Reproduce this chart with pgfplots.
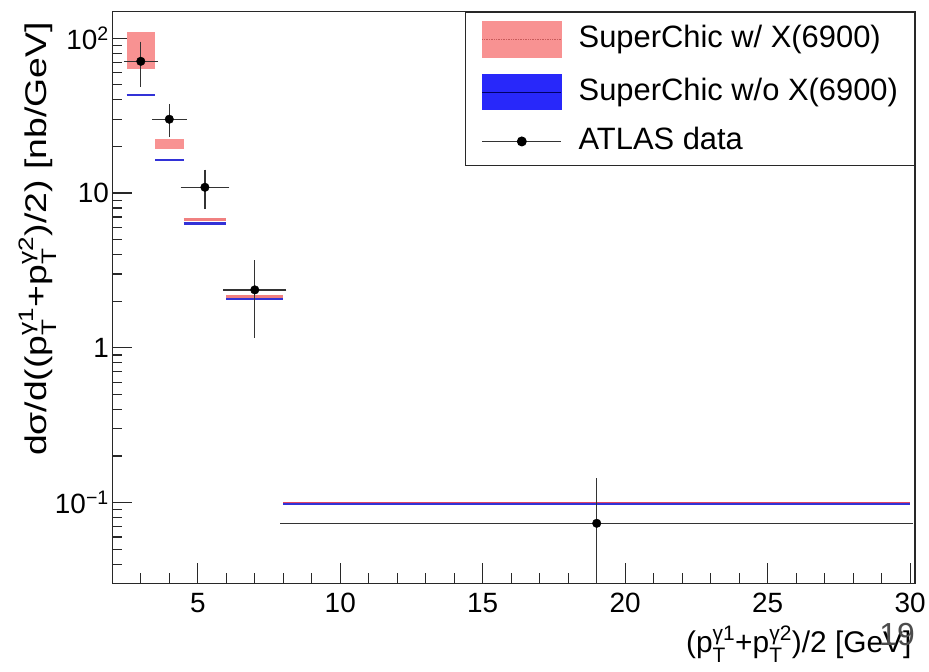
\documentclass[border=0pt]{standalone}
\usepackage{fontspec}
\setmainfont{Liberation Sans}
\usepackage{amsmath}
\usepackage{pgfplots}
\pgfplotsset{compat=1.18}
\definecolor{redband}{RGB}{248,146,146}
\definecolor{redline}{RGB}{240,128,128}
\definecolor{redthin}{RGB}{225,70,100}
\definecolor{blueband}{RGB}{40,40,250}
\definecolor{blueline}{RGB}{50,50,215}
\definecolor{axisgray}{RGB}{40,40,40}
\begin{document}
\begin{tikzpicture}
\useasboundingbox (0,0) rectangle (929bp,672bp);
\begin{axis}[
  at={(112.3bp,88.7bp)}, anchor=south west,
  scale only axis, width=802.7bp, height=571.6bp,
  xmin=2, xmax=30.17, ymode=log, ymin=0.03015, ymax=148.5,
  tick align=inside, xtick pos=left, ytick pos=left,
  axis line style={line width=1.5bp, color=axisgray},
  major tick style={line width=1.2bp, color=axisgray},
  minor tick style={line width=1.2bp, color=axisgray},
  major tick length=20bp, minor tick length=10bp,
  xtick={5,10,15,20,25,30},
  minor xtick={3,4,5,6,7,8,9,10,11,12,13,14,15,16,17,18,19,20,21,22,23,24,25,26,27,28,29,30},
  ytick={0.1,1,10,100},
  yticklabels={10\textsuperscript{−1},1,10,10\textsuperscript{2}},
  minor ytick={0.04,0.05,0.06,0.07,0.08,0.09,0.1,0.2,0.3,0.4,0.5,0.6,0.7,0.8,0.9,1,2,3,4,5,6,7,8,9,10,20,30,40,50,60,70,80,90,100},
  /pgf/number format/assume math mode=true,
  tick label style={font=\fontsize{28}{32}\selectfont},
  xticklabel style={yshift=-6bp},
  xlabel={(p$^{\text{γ1}}_{\text{T}}$+p$^{\text{γ2}}_{\text{T}}$)/2 [GeV]},
  xlabel style={at={(axis description cs:1,-0.1219)}, anchor=base east, font=\fontsize{30}{34}\selectfont},
  ylabel={dσ/d((p$^{\text{γ1}}_{\text{T}}$+p$^{\text{γ2}}_{\text{T}}$)/2) [nb/GeV]},
  ylabel style={at={(axis description cs:-0.082,0.989)}, anchor=base east, font=\fontsize{30}{34}\selectfont, xscale=1.25},
  legend style={at={(rel axis cs:1,1)}, anchor=north east, draw=axisgray, line width=1.5bp,
    font=\fontsize{31}{36}\selectfont, inner xsep=16.3bp, inner ysep=9bp,
    row sep=16bp, column sep=16.6bp,
    nodes={inner sep=0bp, text height=23bp, text depth=7bp}},
  legend cell align=left,
]
\addlegendimage{legend image code/.code={
  \fill[redband] (0bp,-17.5bp) rectangle (79bp,17.5bp);
  \draw[densely dotted, color={rgb,255:red,200;green,90;blue,90}, line width=0.7bp] (0bp,0bp) -- (79bp,0bp);}}
\addlegendentry{SuperChic w/ X(6900)}
\addlegendimage{legend image code/.code={
  \fill[blueband] (0bp,-17.5bp) rectangle (79bp,17.5bp);
  \draw[blue!40!black, line width=0.6bp] (0bp,0bp) -- (79bp,0bp);}}
\addlegendentry{SuperChic w/o X(6900)}
\addlegendimage{legend image code/.code={
  \draw[black!80, line width=1.3bp] (0bp,0bp) -- (79bp,0bp);
  \fill[black] (39.5bp,0bp) circle (4.2bp);}}
\addlegendentry{ATLAS data}

% SuperChic w/ X(6900): bands
\addplot[draw=none, fill=redband, forget plot] coordinates {(2.5,63.3) (3.5,63.3) (3.5,110) (2.5,110)} -- cycle;
\addplot[draw=none, fill=redband, forget plot] coordinates {(3.5,19.3) (4.5,19.3) (4.5,22.3) (3.5,22.3)} -- cycle;
\addplot[redline, line width=3bp, forget plot] coordinates {(4.5,6.76) (6,6.76)};
\addplot[redline, line width=3bp, forget plot] coordinates {(6,2.16) (8,2.16)};
% SuperChic w/o X(6900)
\addplot[blueline, line width=2.5bp, forget plot] coordinates {(2.5,43.0) (3.5,43.0)};
\addplot[blueline, line width=2.5bp, forget plot] coordinates {(3.5,16.4) (4.5,16.4)};
\addplot[blueline, line width=2.5bp, forget plot] coordinates {(4.5,6.37) (6,6.37)};
\addplot[blueline, line width=2.5bp, forget plot] coordinates {(6,2.07) (8,2.07)};
\addplot[blueline, line width=2bp, forget plot] coordinates {(8,0.0975) (30,0.0975)};
\addplot[redthin, line width=1.6bp, forget plot] coordinates {(8,0.1) (30,0.1)};
% ATLAS data
\addplot[forget plot, only marks, mark=*, mark size=4.3bp, black,
  error bars/.cd, x dir=both, x explicit, y dir=both, y explicit,
  error bar style={line width=1.4bp, black!80},
  error mark options={line width=1.4bp, black!80, mark size=3bp}]
coordinates {
  (3,71) +- (0.5,20)
  (4,30) +- (0.5,6)
  (5.25,10.9) +- (0.75,2.65)
  (7,2.37) +- (1,1.15)
  (19,0.0736) +- (11,0.064)
};
\end{axis}
\node[text=black!70, font=\fontsize{32}{36}\selectfont] at (897bp,37bp) {19};
\end{tikzpicture}
\end{document}
